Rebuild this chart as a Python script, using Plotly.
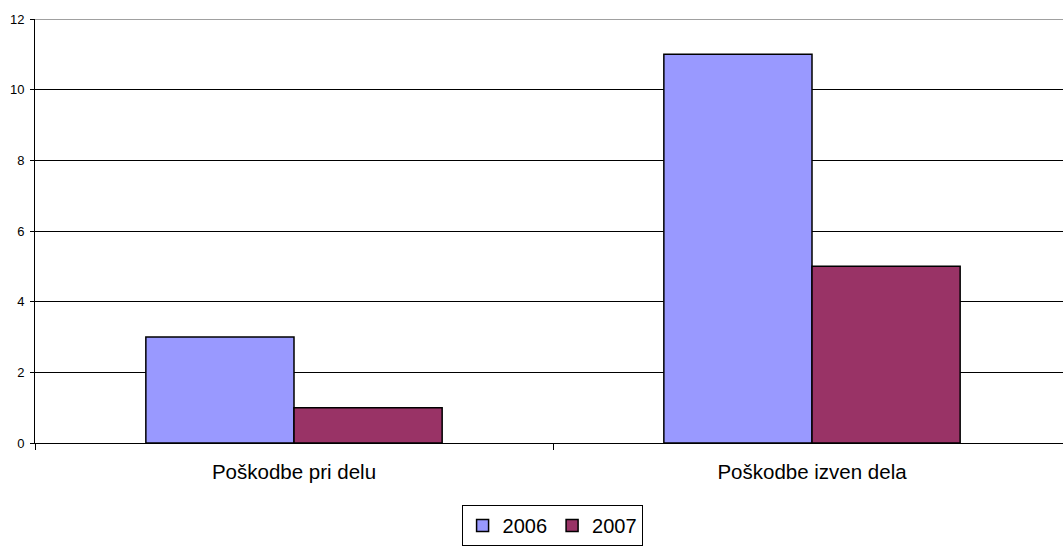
import plotly.graph_objects as go

categories = ["Poškodbe pri delu", "Poškodbe izven dela"]
values_2006 = [3, 11]
values_2007 = [1, 5]
series_names = ["2006", "2007"]
y_ticks = [0, 2, 4, 6, 8, 10, 12]

font = "Liberation Sans, Arial, sans-serif"

fig = go.Figure()
fig.add_trace(go.Bar(x=categories, y=values_2006, name=series_names[0],
                     marker=dict(color="#9999FF", line=dict(color="black", width=1.5))))
fig.add_trace(go.Bar(x=categories, y=values_2007, name=series_names[1],
                     marker=dict(color="#993366", line=dict(color="black", width=1.5))))

cat_px = 518.0
plot_px = 1028.0
fig.update_layout(
    width=1063, height=546,
    margin=dict(l=35, r=0, t=19, b=103, pad=0),
    plot_bgcolor="white", paper_bgcolor="white",
    barmode="group", bargap=0.428, bargroupgap=0,
    font=dict(family=font, color="black"),
    showlegend=True,
    legend=dict(orientation="h", x=0.503, xanchor="center",
                yref="container", y=0, yanchor="bottom",
                bordercolor="black", borderwidth=1, font=dict(size=20),
                traceorder="normal", itemwidth=30, tracegroupgap=0),
    xaxis=dict(type="category", range=[-0.5, -0.5 + plot_px / cat_px],
               tickson="boundaries", ticks="outside", ticklen=6, tickcolor="black",
               showline=True, linecolor="black", linewidth=1, automargin=False,
               showgrid=False, tickfont=dict(size=20.5), ticklabelstandoff=10),
    yaxis=dict(range=[0, 12], tickvals=y_ticks, ticks="outside", ticklen=4,
               tickcolor="black", showline=True, linecolor="black", linewidth=1,
               showgrid=True, gridcolor="black", gridwidth=1, automargin=False,
               zeroline=False, tickfont=dict(size=13), ticklabelstandoff=3),
)
fig.add_shape(type="line", xref="paper", yref="y", x0=0, x1=1, y0=12, y1=12,
              line=dict(color="#808080", width=1.5))
fig.write_html("out.html", config={"displayModeBar": False},
               post_script="document.body.style.margin='0';document.body.style.overflow='hidden';")
